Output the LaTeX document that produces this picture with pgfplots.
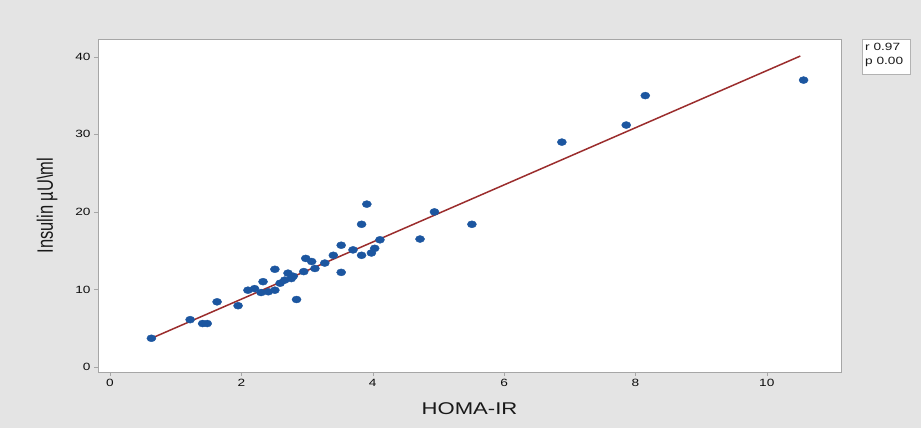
\documentclass[border=0pt]{standalone}
\usepackage{pgfplots}
\pgfplotsset{compat=1.18}
\usepackage{fontspec}
\setmainfont{Liberation Sans}
\definecolor{bg}{RGB}{228,228,228}
\definecolor{dots}{RGB}{28,86,160}
\definecolor{fitline}{RGB}{155,45,45}
\begin{document}
\begin{tikzpicture}
\fill[bg] (0pt,0pt) rectangle (921pt,428pt);
\begin{axis}[
  at={(98pt,56pt)}, anchor=south west,
  scale only axis, width=743pt, height=333pt,
  xmin=-0.183, xmax=11.13, ymin=-0.65, ymax=42.3,
  xtick={0,2,4,6,8,10}, ytick={0,10,20,30,40},
  axis background/.style={fill=white},
  axis line style={gray!70},
  tick style={gray!70, thin}, tick align=outside, major tick length=4pt,
  xtick pos=bottom, ytick pos=left,
  /pgf/number format/assume math mode=true,
  ticklabel style={font=\fontsize{10.5}{12}\selectfont, text=black!95},
  xticklabel={\scalebox{1.3}[1]{\pgfmathprintnumber{\tick}}},
  yticklabel={\scalebox{1.3}[1]{\pgfmathprintnumber{\tick}}},
  xlabel={\scalebox{1.3}[1]{HOMA-IR}},
  xlabel style={font=\fontsize{17}{20}\selectfont, text=black!90, at={(axis description cs:0.5,-0.111)}, anchor=center},
  ylabel={\scalebox{1}[1.35]{Insulin µU\textbackslash ml}},
  ylabel style={font=\fontsize{16.5}{19}\selectfont, text=black!90, at={(axis description cs:-0.0686,0.5)}, anchor=center},
]
\addplot[fitline, line width=1.5pt] coordinates {(0.62,3.66) (10.51,40.1)};
\addplot[only marks, mark=*, mark size=3.5pt, mark options={xscale=1.3, fill=dots, draw=dots}] coordinates {
(0.63,3.7) (1.22,6.1) (1.41,5.6) (1.48,5.6) (1.63,8.4) (1.95,7.9)
(2.10,9.9) (2.20,10.1) (2.33,11.0) (2.30,9.6) (2.41,9.7) (2.51,12.6)
(2.51,9.9) (2.59,10.8) (2.66,11.2) (2.71,12.1) (2.76,11.4) (2.79,11.7)
(2.84,8.7) (2.95,12.3) (2.98,14.0) (3.07,13.6) (3.12,12.7) (3.27,13.4)
(3.40,14.4) (3.52,15.7) (3.52,12.2) (3.70,15.1) (3.83,18.4) (3.91,21.0)
(3.83,14.4) (3.98,14.7) (4.03,15.3) (4.11,16.4) (4.72,16.5) (4.94,20.0)
(5.51,18.4) (6.88,29.0) (7.86,31.2) (8.15,35.0) (10.56,37.0)
};
\end{axis}
\node[draw=gray!60, fill=white, anchor=north west, inner sep=0pt, minimum width=48pt, minimum height=35pt] at (862pt,389pt) {};
\node[anchor=north west, align=left, inner sep=0pt, font=\fontsize{10.5}{14}\selectfont, text=black!90] at (865pt,385pt) {\scalebox{1.3}[1]{r 0.97}\\\scalebox{1.3}[1]{p 0.00}};
\end{tikzpicture}
\end{document}
